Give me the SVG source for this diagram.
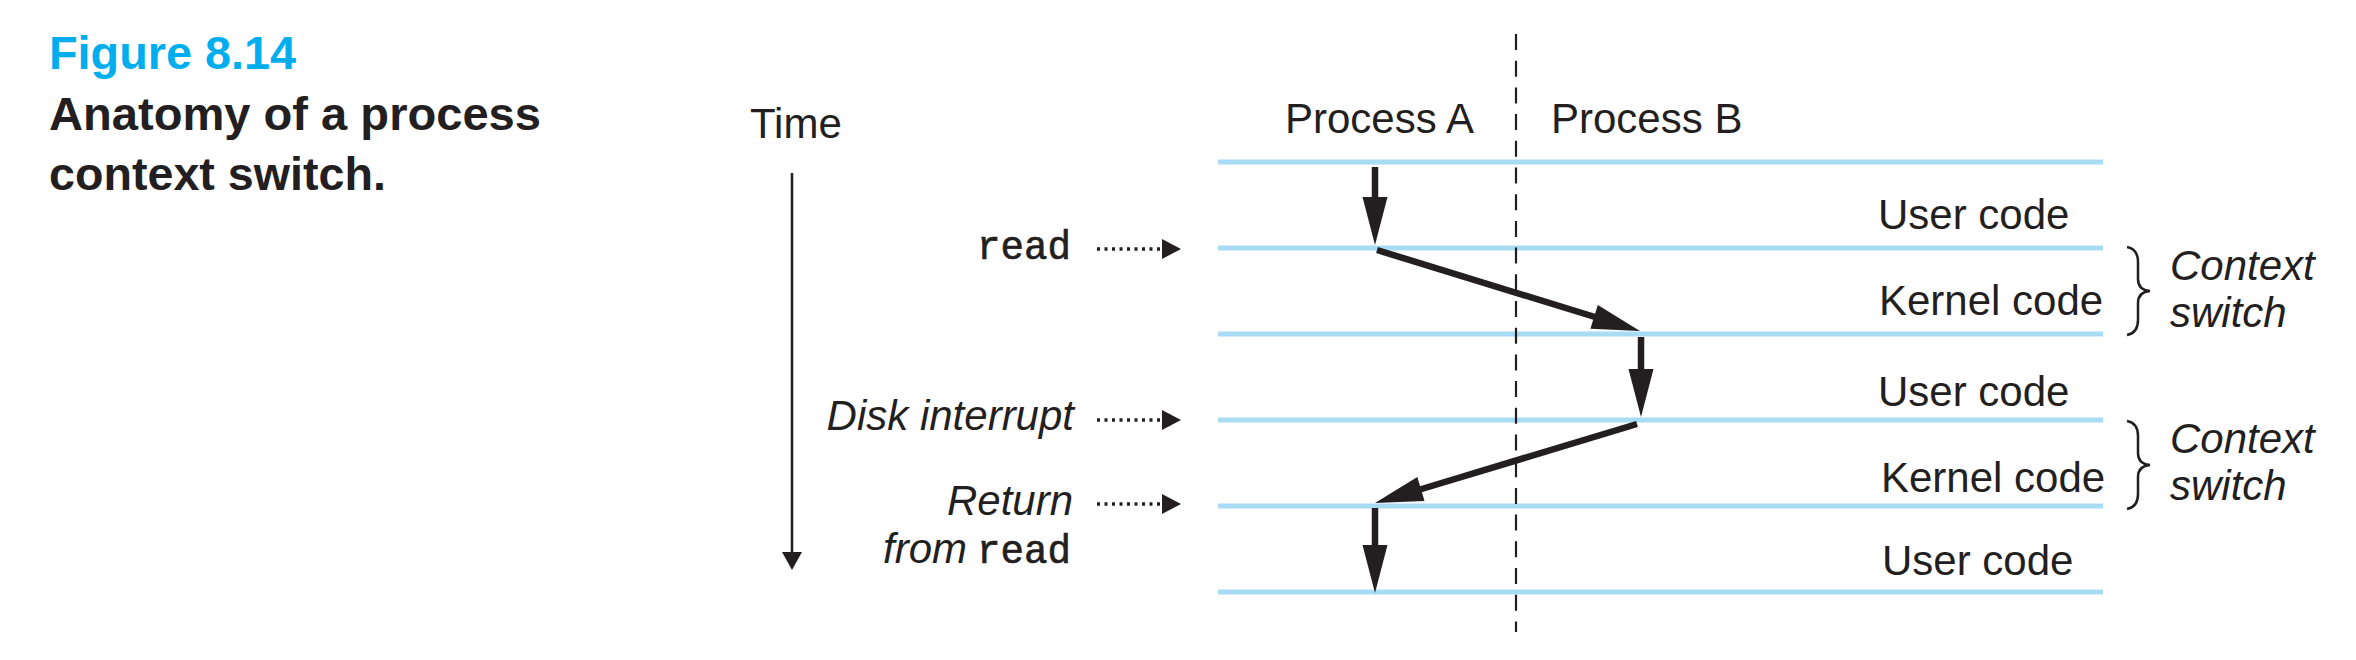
<svg xmlns="http://www.w3.org/2000/svg" width="2356" height="660" viewBox="0 0 2356 660">
<style>
.t{font-family:"Liberation Sans",Arial,Helvetica,sans-serif;font-size:42px;fill:#231f20}
.i{font-style:italic}
.m{font-family:"Liberation Mono","Courier New",monospace;font-size:41px;font-style:normal;fill:#231f20;stroke:#231f20;stroke-width:0.7}
.title{font-family:"Liberation Sans",Arial,sans-serif;font-weight:bold;font-size:47px;fill:#231f20}
.lane{stroke:#a7dcf4;stroke-width:5;fill:none}
.shaft{stroke:#231f20;stroke-width:6.5;fill:none}
.head{fill:#231f20;stroke:none}
.dot{stroke:#231f20;stroke-width:3.5;stroke-dasharray:3 4.5;fill:none}
.brace{stroke:#231f20;stroke-width:2.5;fill:none}
</style>

<g id="caption">
<text class="title" x="49" y="69" style="fill:#00aeef" textLength="247" lengthAdjust="spacingAndGlyphs">Figure 8.14</text>
<text class="title" x="49" y="130" textLength="492" lengthAdjust="spacingAndGlyphs">Anatomy of a process</text>
<text class="title" x="49" y="190" textLength="337" lengthAdjust="spacingAndGlyphs">context switch.</text>
</g>

<g id="lanes">
<line class="lane" x1="1218" y1="162" x2="2103" y2="162"/>
<line class="lane" x1="1218" y1="248" x2="2103" y2="248"/>
<line class="lane" x1="1218" y1="334" x2="2103" y2="334"/>
<line class="lane" x1="1218" y1="420" x2="2103" y2="420"/>
<line class="lane" x1="1218" y1="506" x2="2103" y2="506"/>
<line class="lane" x1="1218" y1="592" x2="2103" y2="592"/>
</g>

<g id="divider">
<line x1="1516" y1="34" x2="1516" y2="632" stroke="#231f20" stroke-width="2.2" stroke-dasharray="16 10.7"/>
</g>

<g id="time-axis">
<text class="t" x="750" y="138">Time</text>
<line x1="792" y1="173" x2="792" y2="554" stroke="#231f20" stroke-width="2.5"/>
<polygon class="head" points="782,552 802,552 792,570"/>
</g>

<g id="process-labels">
<text class="t" x="1285" y="133">Process A</text>
<text class="t" x="1551" y="133">Process B</text>
</g>

<g id="event-read">
<text class="m" x="977" y="259" textLength="94" lengthAdjust="spacingAndGlyphs">read</text>
</g>
<g id="event-disk">
<text class="t i" x="1074" y="430" text-anchor="end">Disk interrupt</text>
</g>
<g id="event-return">
<text class="t i" x="1073" y="515" text-anchor="end">Return</text>
<text class="t i" x="883" y="563">from</text>
<text class="m" x="977" y="563" textLength="94" lengthAdjust="spacingAndGlyphs">read</text>
</g>

<g id="mode-labels">
<text class="t" x="1878" y="229">User code</text>
<text class="t" x="1879" y="315">Kernel code</text>
<text class="t" x="1878" y="406">User code</text>
<text class="t" x="1881" y="492">Kernel code</text>
<text class="t" x="1882" y="575">User code</text>
</g>

<g id="context-switch-1">
<path class="brace" d="M2127,247 Q2138,249 2138,262 L2138,279 Q2138,290 2150,291 Q2138,292 2138,303 L2138,320 Q2138,333 2127,335"/>
<text class="t i" x="2170" y="280">Context</text>
<text class="t i" x="2170" y="327">switch</text>
</g>
<g id="context-switch-2">
<path class="brace" d="M2127,421 Q2138,423 2138,436 L2138,453 Q2138,464 2150,465 Q2138,466 2138,477 L2138,494 Q2138,507 2127,509"/>
<text class="t i" x="2170" y="453">Context</text>
<text class="t i" x="2170" y="500">switch</text>
</g>

<g id="connectors">
<line class="dot" x1="1097" y1="249" x2="1164" y2="249"/>
<polygon class="head" points="1162,239 1181,249 1162,259"/>
<line class="dot" x1="1097" y1="420" x2="1164" y2="420"/>
<polygon class="head" points="1162,410 1181,420 1162,430"/>
<line class="dot" x1="1097" y1="504" x2="1164" y2="504"/>
<polygon class="head" points="1162,494 1181,504 1162,514"/>

<line class="shaft" x1="1375" y1="167" x2="1375" y2="199"/>
<polygon class="head" points="1362.5,197 1387.5,197 1375,245"/>

<line class="shaft" x1="1377" y1="250" x2="1595" y2="317"/>
<polygon class="head" points="1597.8,305 1640,331 1590.4,328.8"/>

<line class="shaft" x1="1641" y1="337" x2="1641" y2="371"/>
<polygon class="head" points="1628.5,369 1653.5,369 1641,417"/>

<line class="shaft" x1="1637" y1="424" x2="1420" y2="489.5"/>
<polygon class="head" points="1424.5,501.1 1375,503 1417.3,477.1"/>

<line class="shaft" x1="1375" y1="508" x2="1375" y2="547"/>
<polygon class="head" points="1362.5,545 1387.5,545 1375,593"/>
</g>
</svg>
